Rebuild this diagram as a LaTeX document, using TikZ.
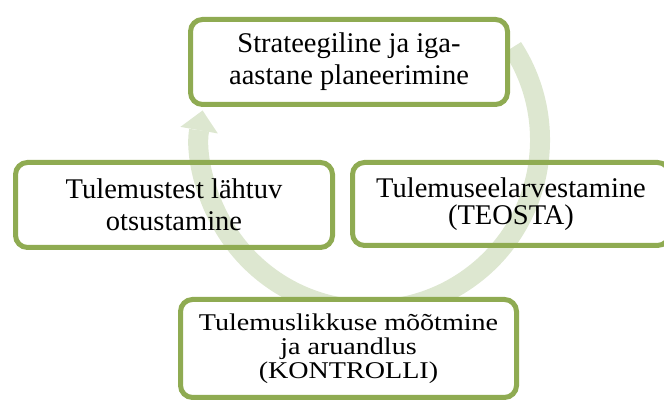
\documentclass[tikz,border=0pt]{standalone}
\usepackage{fontspec}
\setmainfont{Liberation Serif}
\newfontfamily\widefont[FakeStretch=1.17]{Liberation Serif}
\usetikzlibrary{arrows.meta}
\definecolor{boxgreen}{RGB}{143,171,82}
\definecolor{arcgreen}{RGB}{221,231,208}
\begin{document}
\begin{tikzpicture}[x=1pt,y=1pt,
  stage/.style={draw=boxgreen,line width=5pt,rounded corners=12pt,align=center,inner sep=0pt,
    minimum width=317pt,minimum height=85pt,font=\fontsize{28.5}{32}\selectfont},
  cycle/.style={arcgreen,line width=20pt,-{Triangle[width=38pt,length=20pt,line width=0pt]}}]
\clip (0,0) rectangle (664,403);
\coordinate(c) at (370,263);
% ring behind the boxes
\draw[cycle] ([shift={(33:170)}]c) arc[start angle=33,end angle=-190,radius=170];
\node[stage,fill=white] (plan) at (349,341) {Strateegiline ja iga-\\aastane planeerimine};
\node[stage] (otsus) at (174,198) {Tulemustest lähtuv\\otsustamine};
\node[stage,minimum height=83pt,font=\fontsize{28.5}{27}\selectfont] (teosta) at (511,199) {Tulemuseelarvestamine\\(TEOSTA)};
\node[stage,fill=white,minimum width=336pt,minimum height=98pt,font=\widefont\fontsize{24}{24}\selectfont] (kontroll) at (348.5,54.5) {Tulemuslikkuse mõõtmine\\ja aruandlus\\(KONTROLLI)};
\end{tikzpicture}
\end{document}
